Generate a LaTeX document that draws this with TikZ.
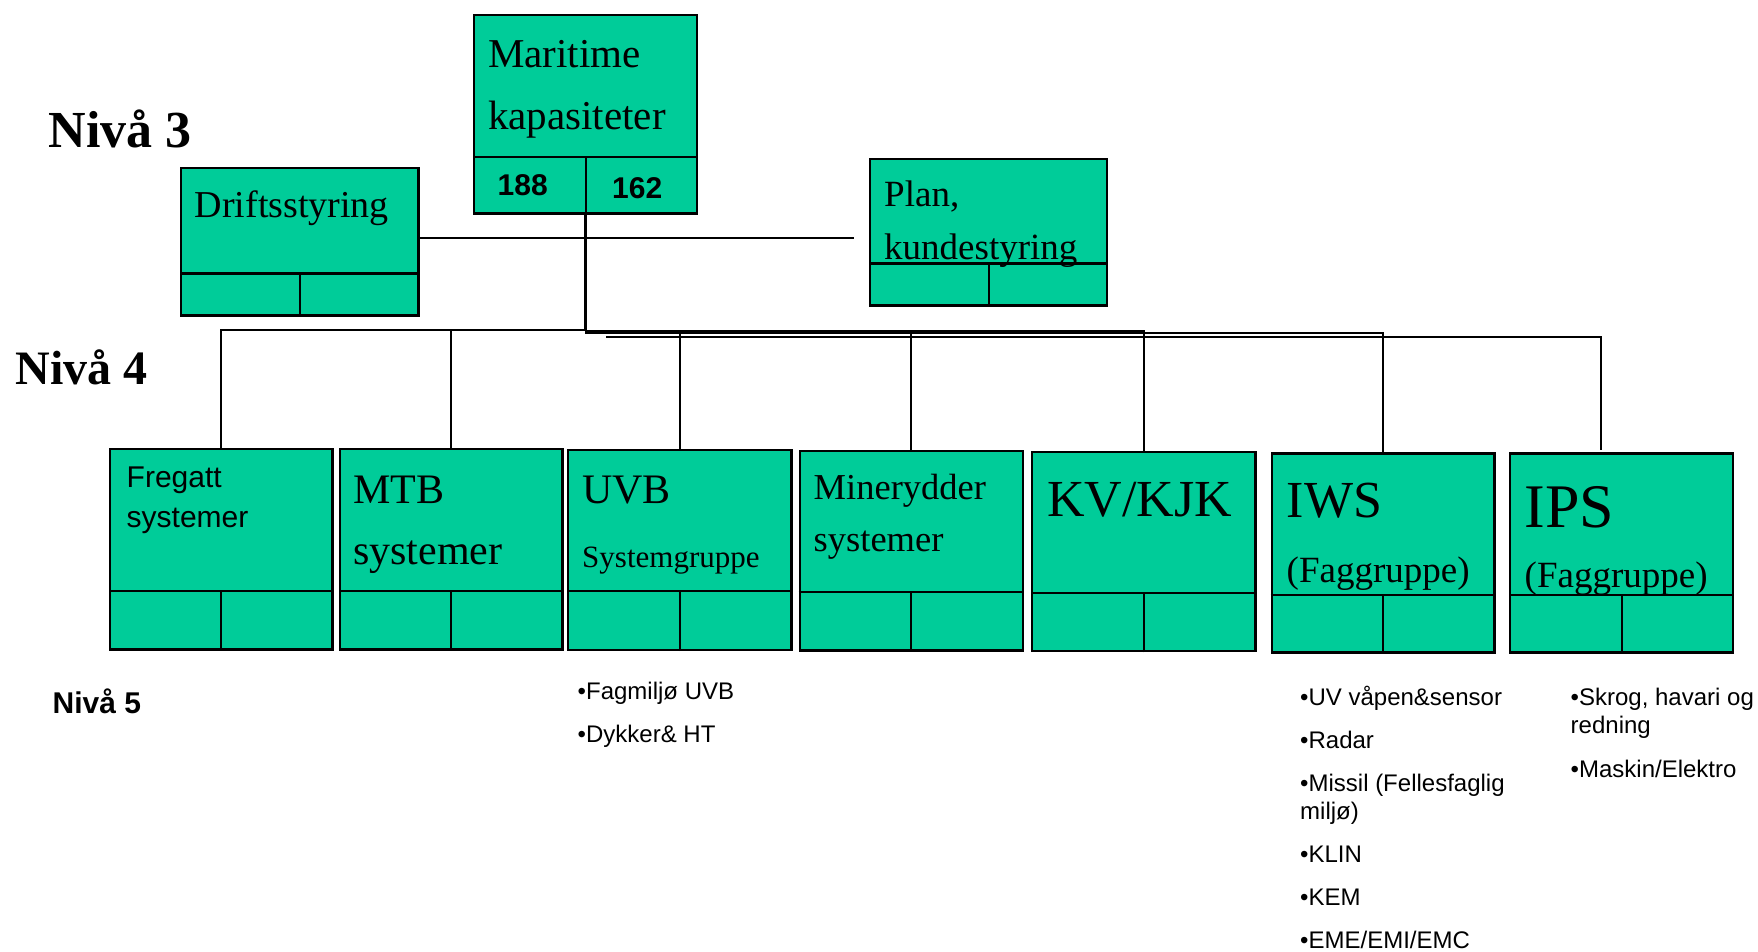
\documentclass[tikz,border=0pt]{standalone}
\usepackage{fontspec}
\setmainfont{Liberation Serif}
\setsansfont{Liberation Sans}
\usepackage{tikz}
\usetikzlibrary{calc}
\usetikzlibrary{positioning}
\definecolor{boxgreen}{RGB}{0,204,153}
\newdimen\pxlen \pxlen=0.01cm
\newcommand{\setpx}[2]{\fontsize{#1\pxlen}{#2\pxlen}\selectfont}
\tikzset{
orgbox/.style={rectangle,draw,black,line width=0.7pt,fill=boxgreen,anchor=north west,inner sep=0pt},
txt/.style={anchor=base west,inner sep=0pt,align=left},
line/.style={black,line width=0.6pt}
}
\begin{document}
\begin{tikzpicture}[x=0.01cm,y=-0.01cm]
    \useasboundingbox (0,0) rectangle (1758,952);
    %
    % Nivaa 3
    \node[orgbox,minimum width=2.225cm,minimum height=1.98cm](maritime) at (473,14) {};
    \node[orgbox,minimum width=2.37cm,minimum height=1.47cm](drift) at (180,167) {};
    \node[orgbox,minimum width=2.365cm,minimum height=1.46cm](plan) at (869,158) {};
    % Nivaa 4
    \node[orgbox,minimum width=2.22cm,minimum height=2.00cm](fregatt) at (109,448) {};
    \node[orgbox,minimum width=2.22cm,minimum height=2.00cm](mtb) at (339,448) {};
    \node[orgbox,minimum width=2.23cm,minimum height=1.995cm](uvb) at (567,449) {};
    \node[orgbox,minimum width=2.23cm,minimum height=1.995cm](miner) at (798.5,449.5) {};
    \node[orgbox,minimum width=2.23cm,minimum height=1.99cm](kv) at (1031,450.7) {};
    \node[orgbox,minimum width=2.225cm,minimum height=1.99cm](iws) at (1270.5,452.3) {};
    \node[orgbox,minimum width=2.227cm,minimum height=1.99cm](ips) at (1509,452.3) {};
    %
    \foreach \b/\h in {maritime/58,drift/43,plan/43,fregatt/60,mtb/60,uvb/60,miner/60,kv/59,iws/59,ips/59}{
    \draw[line] ($(\b.south west)+(0,-\h)$) -- ($(\b.south east)+(0,-\h)$);
    \draw[line] (\b.south) -- ($(\b.south)+(0,-\h)$);
    }
    %
    \coordinate (planend) at (854,238);
    \coordinate (ipsstart) at (606,337);
    \draw[line] (drift.east |- planend) -- (planend);
    \draw[line,line width=1pt] (maritime.south) -- (maritime.south |- 0,331);
    \foreach \b/\m in {fregatt/330,mtb/330,uvb/332,miner/332,kv/331,iws/333}
    \draw[line] (maritime.south) |- (\b.north |- 0,\m) -- (\b.north);
    \draw[line] (ipsstart) -| ([xshift=-0.21cm,yshift=0.02cm]ips.north);
    %
    \node[txt,font=\bfseries\setpx{52}{60}](niva3) at (48,148) {Nivå 3};
    \node[txt,font=\bfseries\setpx{48}{56}](niva4) at (15,384) {Nivå 4};
    \node[txt,font=\sffamily\bfseries\setpx{30}{36}](niva5) at (52,713) {Nivå 5};
    %
    % multi-line texts: base = last line
    \node[txt,font=\setpx{41}{62}](maritimeT) at (487.5,130) {Maritime\\kapasiteter};
    \node[txt,font=\sffamily\bfseries\setpx{30}{36}](numA) at (497,196) {188};
    \node[txt,font=\sffamily\bfseries\setpx{30}{36}](numB) at (611.5,199) {162};
    \node[txt,font=\setpx{38}{46}](driftT) at (194,218) {Driftsstyring};
    \node[txt,font=\setpx{37}{53}](planT) at (883.5,260) {Plan,\\kundestyring};
    %
    \node[txt,font=\sffamily\setpx{30}{39}](fregattT) at (126,527) {Fregatt\\systemer};
    \node[txt,font=\setpx{42}{61}](mtbT) at (352.5,564) {MTB\\systemer};
    \node[txt,font=\setpx{42}{50}](uvbT) at (581.5,503) {UVB};
    \node[txt,font=\setpx{31}{36}](uvbS) at (581.5,567) {Systemgruppe};
    \node[txt,font=\setpx{36.5}{52}](minerT) at (813,551) {Minerydder\\systemer};
    \node[txt,font=\setpx{52}{60}](kvT) at (1046.5,516) {KV/KJK};
    \node[txt,font=\setpx{52}{60}](iwsT) at (1286,517) {IWS};
    \node[txt,font=\setpx{37}{44}](iwsS) at (1286,582) {(Faggruppe)};
    \node[txt,font=\setpx{62}{70}](ipsT) at (1524,527) {IPS};
    \node[txt,font=\setpx{37}{44}](ipsS) at (1524,587) {(Faggruppe)};
    %
    \node[txt,font=\sffamily\setpx{24}{28.3}](uvbL) at (577,742)
    {•Fagmiljø UVB\\[0.145cm]•Dykker\& HT};
    \node[txt,font=\sffamily\setpx{24}{28.3}](iwsL) at (1299.5,948)
    {•UV våpen\&sensor\\[0.145cm]•Radar\\[0.145cm]•Missil (Fellesfaglig\\miljø)\\[0.145cm]•KLIN\\[0.145cm]•KEM\\[0.145cm]•EME/EMI/EMC};
    \node[txt,font=\sffamily\setpx{24}{28.3}](ipsL) at (1570,777)
    {•Skrog, havari og\\redning\\[0.15cm]•Maskin/Elektro};
\end{tikzpicture}
\end{document}
